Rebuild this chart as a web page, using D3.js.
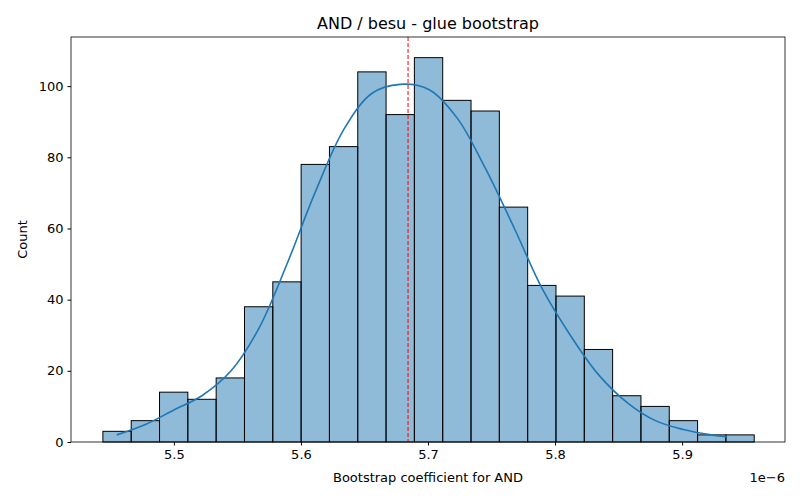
<!DOCTYPE html>
<html><head><meta charset="utf-8">
<script src="https://cdn.jsdelivr.net/npm/d3@7"></script>
<style>body{margin:0;background:#fff}text{font-family:"DejaVu Sans",sans-serif}</style>
</head><body><div id="chart"></div>
<script>
// histogram bins (x in units of 1e-6)
var binStart = 5.4441, binWidth = 0.02229;
var counts = [3,6,14,12,18,38,45,78,83,104,92,108,96,93,66,44,41,26,13,10,6,2,2];
// kde curve
var kdeX = [5.455,5.478,5.5,5.522,5.545,5.567,5.589,5.611,5.634,5.656,5.678,5.701,5.723,5.745,5.768,5.79,5.812,5.834,5.857,5.879,5.901,5.923,5.935];
var kdeY = [2,5,9,13,20,32,50,70,88,98,100.5,99,91,77,60,43,30,19,11,6,3.5,2,1.5];
var meanX = 5.6843;
var xTicks = [5.5,5.6,5.7,5.8,5.9];
var yTicks = [0,20,40,60,80,100];

var m = {left:71, right:15, top:37, bottom:58}, W = 800, H = 500;
var svg = d3.select("#chart").append("svg").attr("width", W).attr("height", H);
var x = d3.scaleLinear().domain([5.419, 5.981]).range([m.left, W - m.right]);
var y = d3.scaleLinear().domain([0, 113.8]).range([H - m.bottom, m.top]);

svg.selectAll("rect.bar").data(counts).enter().append("rect")
	.attr("class", "bar")
	.attr("x", function(d, i) { return x(binStart + i * binWidth); })
	.attr("width", function(d, i) { return x(binStart + (i + 1) * binWidth) - x(binStart + i * binWidth); })
	.attr("y", function(d) { return y(d); })
	.attr("height", function(d) { return y(0) - y(d); })
	.style("fill", "rgba(31,119,180,0.5)")
	.style("stroke", "black")
	.style("stroke-width", 1);

var line = d3.line().curve(d3.curveCatmullRom)
	.x(function(d) { return x(d[0]); }).y(function(d) { return y(d[1]); });
svg.append("path").datum(d3.zip(kdeX, kdeY)).attr("d", line)
	.style("fill", "none").style("stroke", "#1f77b4").style("stroke-width", 1.6);

svg.append("line")
	.attr("x1", x(meanX)).attr("x2", x(meanX)).attr("y1", m.top).attr("y2", H - m.bottom)
	.style("stroke", "red").style("stroke-width", 1).style("stroke-dasharray", "4,2");

svg.append("rect").attr("x", m.left).attr("y", m.top)
	.attr("width", W - m.left - m.right).attr("height", H - m.top - m.bottom)
	.style("fill", "none").style("stroke", "black").style("stroke-width", 0.8);

var xa = svg.append("g").attr("transform", "translate(0," + (H - m.bottom) + ")")
	.call(d3.axisBottom(x).tickValues(xTicks).tickFormat(d3.format(".1f")).tickSize(3.5).tickPadding(4));
var ya = svg.append("g").attr("transform", "translate(" + m.left + ",0)")
	.call(d3.axisLeft(y).tickValues(yTicks).tickSize(3.5).tickPadding(4));
[xa, ya].forEach(function(a) {
	a.select(".domain").remove();
	a.selectAll("text").style("font-size", "13px").style("fill", "black");
	a.selectAll("line").style("stroke", "black");
});

svg.append("text").attr("x", (m.left + W - m.right) / 2).attr("y", 29)
	.attr("text-anchor", "middle").style("font-size", "16px").text("AND / besu - glue bootstrap");
svg.append("text").attr("x", (m.left + W - m.right) / 2).attr("y", 482)
	.attr("text-anchor", "middle").style("font-size", "13px").text("Bootstrap coefficient for AND");
svg.append("text").attr("transform", "translate(27," + ((m.top + H - m.bottom) / 2) + ") rotate(-90)")
	.attr("text-anchor", "middle").style("font-size", "13px").text("Count");
svg.append("text").attr("x", W - m.right).attr("y", 482)
	.attr("text-anchor", "end").style("font-size", "13px").text("1e\u22126");
</script></body></html>
